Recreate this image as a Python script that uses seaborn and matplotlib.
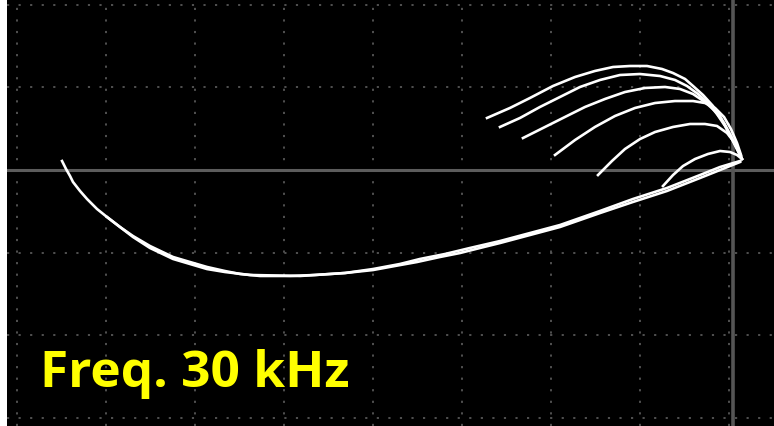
import numpy as np
import pandas as pd
import matplotlib
matplotlib.use("Agg")
import matplotlib.pyplot as plt
import seaborn as sns

# Screen coordinates in graticule divisions (x: horizontal div, y: vertical div from centre line)
bottom_x = [0.506, 0.551, 0.596, 0.629, 0.708, 0.787, 0.899, 1.011, 1.157, 1.303, 1.494, 1.753,
            1.944, 2.135, 2.337, 2.506, 2.730, 3.067, 3.348, 3.685, 4.000, 4.247, 4.494, 4.753,
            4.978, 5.202, 5.427, 5.764, 6.101, 6.551, 6.921, 7.303, 7.674, 7.899, 8.124]
bottom_y = [0.109, 0.012, -0.073, -0.145, -0.254, -0.351, -0.472, -0.569, -0.690, -0.799, -0.920, -1.053,
            -1.114, -1.174, -1.223, -1.259, -1.283, -1.283, -1.271, -1.247, -1.211, -1.162, -1.114, -1.053,
            -1.005, -0.944, -0.884, -0.787, -0.690, -0.521, -0.387, -0.254, -0.097, 0.000, 0.097]

bottom2_x = [1.011, 1.303, 1.494, 1.753, 1.944, 2.135, 2.337, 2.618, 3.180, 3.685, 4.000, 4.303,
             4.528, 4.809, 5.090, 5.427, 5.764, 6.101, 6.551, 6.921, 7.303, 7.674, 7.899, 8.124]
bottom2_y = [-0.569, -0.811, -0.944, -1.077, -1.138, -1.199, -1.235, -1.271, -1.283, -1.247, -1.199, -1.138,
             -1.077, -1.017, -0.944, -0.860, -0.763, -0.666, -0.496, -0.351, -0.218, -0.061, 0.036, 0.109]

arc1_x = [5.281, 5.539, 5.764, 6.022, 6.270, 6.494, 6.697, 6.888, 7.079, 7.247, 7.371, 7.506,
          7.596, 7.708, 7.820, 7.899, 7.978, 8.045, 8.090, 8.146]
arc1_y = [0.630, 0.751, 0.872, 1.017, 1.126, 1.199, 1.247, 1.259, 1.259, 1.223, 1.174, 1.102,
          1.017, 0.908, 0.775, 0.654, 0.496, 0.351, 0.254, 0.133]

arc2_x = [5.427, 5.652, 5.876, 6.101, 6.326, 6.551, 6.775, 7.000, 7.225, 7.393, 7.528, 7.652,
          7.764, 7.865, 7.955, 8.034, 8.090, 8.135]
arc2_y = [0.521, 0.630, 0.763, 0.884, 1.005, 1.090, 1.150, 1.162, 1.138, 1.090, 1.017, 0.920,
          0.811, 0.678, 0.533, 0.375, 0.254, 0.157]

arc3_x = [5.685, 5.933, 6.157, 6.382, 6.607, 6.831, 7.056, 7.281, 7.449, 7.596, 7.730, 7.843,
          7.944, 8.022, 8.090, 8.135]
arc3_y = [0.387, 0.521, 0.642, 0.763, 0.860, 0.944, 0.993, 1.005, 0.981, 0.920, 0.823, 0.714,
          0.569, 0.412, 0.266, 0.157]

arc4_x = [6.045, 6.270, 6.494, 6.719, 6.944, 7.169, 7.393, 7.596, 7.730, 7.843, 7.944, 8.022,
          8.090, 8.135]
arc4_y = [0.182, 0.363, 0.521, 0.654, 0.751, 0.811, 0.835, 0.835, 0.811, 0.751, 0.642, 0.496,
          0.327, 0.182]

arc5_x = [6.528, 6.685, 6.831, 7.000, 7.169, 7.371, 7.562, 7.730, 7.865, 7.978, 8.056, 8.112, 8.146]
arc5_y = [-0.061, 0.109, 0.254, 0.375, 0.460, 0.521, 0.557, 0.557, 0.533, 0.448, 0.339, 0.230, 0.133]

arc6_x = [7.258, 7.371, 7.483, 7.618, 7.764, 7.899, 8.011, 8.090, 8.146]
arc6_y = [-0.194, -0.061, 0.048, 0.133, 0.194, 0.230, 0.218, 0.182, 0.133]

label_text = "Freq. 30 kHz"

traces = {
    "bottom": (bottom_x, bottom_y),
    "bottom2": (bottom2_x, bottom2_y),
    "arc1": (arc1_x, arc1_y),
    "arc2": (arc2_x, arc2_y),
    "arc3": (arc3_x, arc3_y),
    "arc4": (arc4_x, arc4_y),
    "arc5": (arc5_x, arc5_y),
    "arc6": (arc6_x, arc6_y),
}
frames = []
for name, (xs, ys) in traces.items():
    frames.append(pd.DataFrame({"x": xs, "y": ys, "trace": name}))
df = pd.concat(frames, ignore_index=True)

W, H = 774, 427
fig = plt.figure(figsize=(W / 100, H / 100), dpi=100, facecolor="white")
ax = fig.add_axes([7 / W, 0, 1 - 7 / W, 1])
ax.set_facecolor("black")

# graticule: 17 px origin, 89 px per horizontal div, 82.6 px per vertical div
x0 = (7 - 17) / 89
x1 = (774 - 17) / 89
y_top = 171 / 82.6
y_bot = (171 - 427) / 82.6
ax.set_xlim(x0, x1)
ax.set_ylim(y_bot, y_top)

grid_col = "#575757"
dots = (0, (1.2, 5.2))
for gx in range(0, 9):
    ax.axvline(gx, color=grid_col, lw=1.3, ls=dots, zorder=1)
for gy in range(-3, 3):
    if gy == 0:
        continue
    ax.axhline(gy, color=grid_col, lw=1.3, ls=dots, zorder=1)

# centre axes of the display
ax.axhline(0, color="#5c5c5c", lw=2.2, zorder=2)
ax.axvline((733 - 17) / 89, color="#555555", lw=2.6, zorder=2)

sns.lineplot(data=df, x="x", y="y", units="trace", estimator=None, sort=False,
             color="white", lw=1.9, ax=ax, legend=False, zorder=3)

ax.text((40 - 17) / 89, (171 - 387) / 82.6, label_text, color="#ffff00",
        fontsize=37, fontweight="bold", family=["Open Sans", "DejaVu Sans"],
        ha="left", va="baseline", zorder=4)

ax.set_xticks([])
ax.set_yticks([])
ax.set_xlabel("")
ax.set_ylabel("")
for s in ax.spines.values():
    s.set_visible(False)

fig.savefig("out.png", dpi=100, facecolor="white")
